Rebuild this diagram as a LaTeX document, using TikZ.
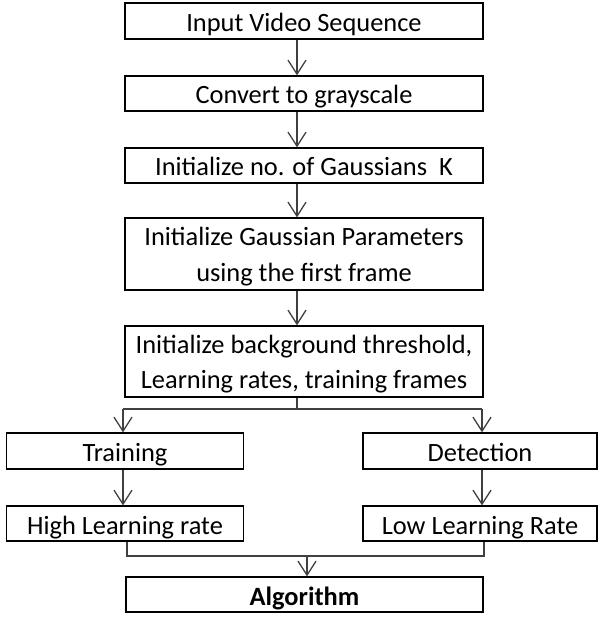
\documentclass[tikz,border=0pt]{standalone}
\usepackage{fontspec}
\setmainfont{Carlito}
\usetikzlibrary{arrows.meta}
\begin{document}
\begin{tikzpicture}[x=1pt,y=-1pt,
  box/.style={draw, line width=1.3pt, inner sep=0pt, align=center,
    font=\fontsize{26.4}{35.5}\selectfont, minimum height=35pt},
  one/.style={text height=21pt, text depth=0pt},
  two/.style={text height=54pt, text depth=0pt},
  wide/.style={box, minimum width=358pt},
  side/.style={box, one, minimum width=237pt},
  conn/.style={line width=1.3pt, draw=black!75},
  arr/.style={conn, -{Straight Barb[length=14pt, width=18pt, line width=1.3pt]}}]
\useasboundingbox (0,0) rectangle (599,617);
\node[wide, one, minimum height=36pt] (b1) at (304,21) {Input Video Sequence};
\node[wide, one] (b2) at (304,93.5) {Convert to grayscale};
\node[wide, one] (b3) at (304,165.5) {Initialize no. of Gaussians\ \ K};
\node[wide, two, minimum height=72pt] (b4) at (304,254) {Initialize Gaussian Parameters\\using the first frame};
\node[wide, two, minimum height=71pt] (b5) at (304,361.5) {Initialize background threshold,\\Learning rates, training frames};
\node[side, minimum height=36pt] (tr) at (125,451) {Training};
\node[side, minimum height=36pt, minimum width=234pt] (de) at (480,451) {Detection};
\node[side] (hi) at (125,523.5) {High Learning rate};
\node[side, minimum width=234pt] (lo) at (480,523.5) {Low Learning Rate};
\node[wide, one, minimum width=357pt] (al) at (304.5,594.5) {\textbf{Algorithm}};
\coordinate (ax) at (297,0);
\coordinate (split) at (297,409);
\coordinate (ltop) at (123,409);
\coordinate (rtop) at (482,409);
\coordinate (merge) at (307,556);
\coordinate (lbot) at (127,556);
\coordinate (rbot) at (484,556);
\draw[arr] (b1.south -| ax) -- (b2.north -| ax);
\draw[arr] (b2.south -| ax) -- (b3.north -| ax);
\draw[arr] (b3.south -| ax) -- (b4.north -| ax);
\draw[arr] (b4.south -| ax) -- (b5.north -| ax);
\draw[conn] (b5.south -| ax) -- (split);
\draw[conn] (ltop) -- (rtop);
\draw[arr] (ltop) -- (tr.north -| ltop);
\draw[arr] (rtop) -- (de.north -| rtop);
\draw[arr] (tr.south -| ltop) -- (hi.north -| ltop);
\draw[arr] (de.south -| rtop) -- (lo.north -| rtop);
\draw[conn] (hi.south -| lbot) -- (lbot) -- (rbot) -- (lo.south -| rbot);
\draw[arr] (merge) -- (al.north -| merge);
\end{tikzpicture}
\end{document}
